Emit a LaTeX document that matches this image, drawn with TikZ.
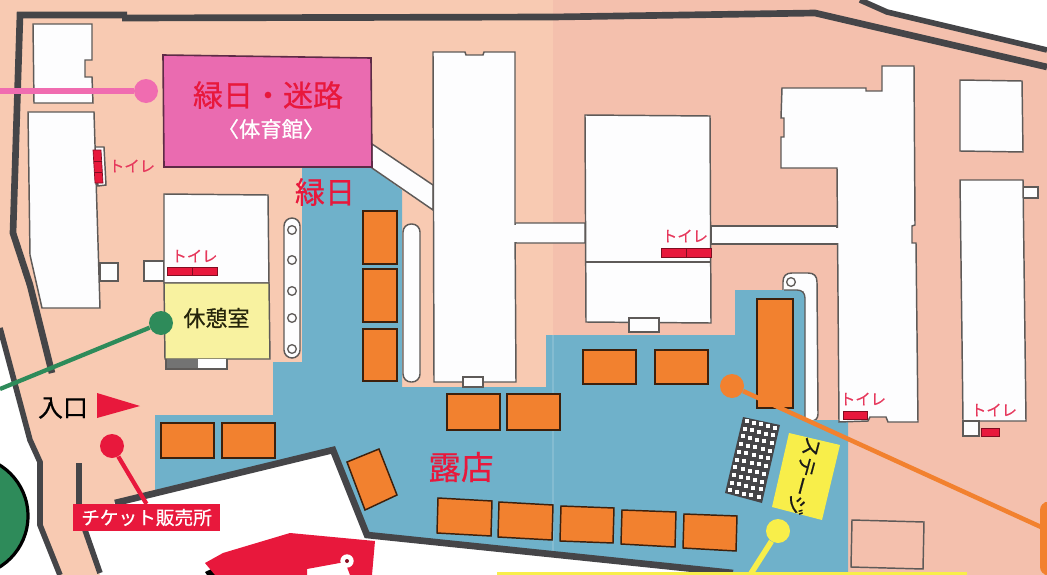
\documentclass[tikz,border=0pt]{standalone}
\usepackage{fontspec}
\setmainfont[FakeBold=0.6]{Noto Sans CJK JP}
\definecolor{peachL}{HTML}{F8CAB2}
\definecolor{peachR}{HTML}{F4C0AD}
\definecolor{blueA}{HTML}{6FB1CA}
\definecolor{wallC}{HTML}{454548}
\definecolor{lineC}{HTML}{5E5A58}
\definecolor{orangeA}{HTML}{F2812F}
\definecolor{pinkA}{HTML}{EA6BB0}
\definecolor{pinkB}{HTML}{F06CB0}
\definecolor{redA}{HTML}{E8183C}
\definecolor{redT}{HTML}{E6385C}
\definecolor{yellowA}{HTML}{F8EE4A}
\definecolor{yellowB}{HTML}{F8F2A0}
\definecolor{greenA}{HTML}{2E8B5A}
\definecolor{whiteA}{HTML}{FDFDFE}
\tikzset{
  x=0.75pt,y=-0.75pt,
  wall/.style={draw=wallC,line width=5pt,line join=miter},
  wallthin/.style={draw=wallC,line width=4.2pt,line join=miter},
  bldg/.style={draw=lineC,line width=1.1pt,fill=whiteA,line join=miter},
  booth/.style={draw=black!75!orangeA,line width=1.1pt,fill=orangeA},
  wc/.style={fill=redA,draw=black!45!redA,line width=0.5pt},
  wctext/.style={text=redT,font=\fontsize{11.5pt}{11.5pt}\selectfont,inner sep=0pt},
  dot/.style={circle,inner sep=0pt,minimum size=18pt},
  hole/.style={circle,draw=lineC,line width=1pt,fill=whiteA,inner sep=0pt,minimum size=6.5pt},
}
\begin{document}
\begin{tikzpicture}
\useasboundingbox (0,0) rectangle (1047,575);
% paper
\fill[peachL] (0,0) rectangle (553,575);
\fill[peachR] (553,0) rectangle (1047,575);
% outside the grounds
\fill[white] (860,0) -- (887,12) -- (1047,50) -- (1047,0) -- cycle;
\fill[white] (0,328) -- (30,440) -- (40,462) -- (40,525) -- (60,575) -- (0,575) -- cycle;
\fill[white] (85,530) -- (100,575) -- (740,575) -- (367,535) -- (333,450) -- (115,503) -- cycle;
% big green disc
\fill[greenA,draw=black,line width=2.4pt] (-32,516) circle [radius=60];
% strip by the stage
\path[bldg] (783,282) .. controls (783,276) and (786,273) .. (792,273) -- (808,273) .. controls (814,273) and (817,276) .. (817,282) -- (818,414) .. controls (818,419) and (815,421) .. (811,421) -- (803,421) -- (803,292) -- (783,292) -- cycle;
\node[hole] (hole7) at (791,282) {};
% blue grounds
\fill[blueA] (302,168) -- (372,168) -- (402,190) -- (402,387) -- (546,387) -- (546,335) -- (735,335) -- (735,290) -- (797,290) .. controls (802,290) and (805,293) .. (805,298) -- (805,420) -- (848,420) -- (848,575) -- (740,575) -- (367,535) -- (333,450) -- (155,490) -- (155,415) -- (273,415) -- (273,362) -- (302,362) -- cycle;
\draw[lineC,line width=1pt] (784,290) -- (797,290) .. controls (802,290) and (805,293) .. (805,298) -- (805,420);
\draw[white,opacity=0.15,line width=1.5pt] (553,335) -- (553,553);
% walls
\draw[wall] (127,15) -- (20,15) -- (13,233) -- (30,285) -- (52,373);
\draw[wall] (122,18) -- (553,17) -- (815,13) -- (1047,67);
\draw[wallthin] (860,0) -- (887,12) -- (1047,50);
\draw[wallthin] (0,328) -- (30,440) -- (40,462) -- (40,525) -- (60,575);
\draw[wallthin] (79,463) -- (79,504) -- (85,530) -- (100,573);
\draw[wall] (115,503) -- (333,450) -- (367,535) -- (733,573);
% buildings
\path[bldg] (33,24) -- (92,24) -- (92,60) -- (85,60) -- (85,77) -- (92,77) -- (93,103) -- (34,103) -- cycle;
\path[bldg] (100,263) rectangle (118,281);
\path[bldg] (94,147) -- (104,147) -- (106,185) -- (98,186) -- cycle;
\path[bldg] (28,112) -- (94,112) -- (100,308) -- (42,308) -- (30,255) -- cycle;
\path[bldg] (144,261) rectangle (164,281);
\path[bldg] (164,194) -- (268,195) -- (269,283) -- (164,283) -- cycle;
\path[draw=lineC,line width=1.1pt,fill=yellowB] (164,283) -- (269,283) -- (270,359) -- (165,359) -- cycle;
\fill[whiteA] (197,359) rectangle (227,369);
\fill[black!55] (166,359) rectangle (198,369);
\draw[lineC,line width=1.1pt] (166,359) -- (166,369) -- (227,369) -- (227,359);
\path[bldg] (372,144) -- (433,185) -- (433,210) -- (372,168) -- cycle;
\path[bldg] (515,223) -- (585,223) -- (585,243) -- (516,243) -- cycle;
\path[bldg] (433,52) -- (465,52) -- (466,55) -- (483,55) -- (484,52) -- (515,52) -- (515,223) -- (516,382) -- (434,382) -- cycle;
\fill[whiteA] (510,224.5) rectangle (520,241.5);
\path[bldg] (463,377) rectangle (483,387);
\path[bldg] (711,226) rectangle (837,244);
\path[bldg] (585,115) -- (710,116) -- (711,323) -- (586,322) -- cycle;
\draw[lineC,line width=1.1pt] (585,262) -- (711,262);
\path[bldg] (629,318) rectangle (659,332);
\path[bldg] (782,88) -- (866,88) -- (866,91) -- (882,91) -- (882,66) -- (914,66) -- (915,225) -- (912,226) -- (912,243) -- (916,243) -- (918,422) -- (888,422) -- (886,417) -- (870,417) -- (868,421) -- (839,422) -- (837,168) -- (781,168) -- (781,137) -- (784,137) -- (784,118) -- (781,118) -- cycle;
\fill[whiteA] (832,227.5) rectangle (842,242.5);
\path[bldg] (960,80) -- (1022,81) -- (1023,152) -- (960,151) -- cycle;
\path[bldg] (1023,187) rectangle (1038,198);
\path[bldg] (960,180) -- (1023,180) -- (1026,421) -- (963,421) -- cycle;
\path[bldg] (963,421) rectangle (979,436);
\path[draw=lineC,line width=1.1pt,fill=peachR] (852,520) -- (924,522) -- (923,569) -- (851,567) -- cycle;
% toilets
\path[wc] (93,150) -- (101,150) -- (103,183) -- (95,183) -- cycle;
\draw[black!45!redA,line width=0.5pt] (94,161) -- (102,161) (94,172) -- (102,172);
\path[wc] (167,267) rectangle (217,275);
\draw[black!45!redA,line width=0.6pt] (192,267) -- (192,275);
\path[wc] (661,248) rectangle (711,257);
\draw[black!45!redA,line width=0.6pt] (686,248) -- (686,257);
\path[wc] (843,411) rectangle (867,419);
\path[wc] (981,428) rectangle (999,436);
\node[wctext] (wc1) at (132,166) {トイレ};
\node[wctext] (wc2) at (194.5,256) {トイレ};
\node[wctext] (wc3) at (685,236) {トイレ};
\node[wctext] (wc4) at (863,399) {トイレ};
\node[wctext] (wc5) at (994,410) {トイレ};
% pillars
\path[bldg,rounded corners=6pt] (284,218) rectangle (300,358);
\foreach \n/\y in {a/230,b/260,c/291,d/318,e/349}{\node[hole] (hole\n) at (292,\y) {};}
\path[bldg,rounded corners=6pt] (403,224) rectangle (420,382);
% gym
\path[draw=black!60!pinkA,line width=1.2pt,fill=pinkA] (163,55) -- (371,58) -- (372,167) -- (164,167) -- cycle;
\node[text=redA,font=\fontsize{22.5pt}{22.5pt}\selectfont,inner sep=0pt] (gymtitle) at (268,95) {緑日・迷路};
\node[text=white,font=\fontsize{16pt}{16pt}\selectfont,inner sep=0pt] (gymsub) at (271,129) {〈体育館〉};
\node[text=redA,font=\fontsize{22.5pt}{22.5pt}\selectfont,inner sep=0pt] (ennichi) at (325,192) {緑日};
\node[text=redA,font=\fontsize{24.5pt}{24.5pt}\selectfont,inner sep=0pt] (roten) at (461,467) {露店};
\node[text=black!85!yellowA,font=\fontsize{16.5pt}{16.5pt}\selectfont,inner sep=0pt] (kyukei) at (216.5,318) {休憩室};
\node[text=black,font=\fontsize{18.7pt}{18.7pt}\selectfont,inner sep=0pt] (iriguchi) at (63,408) {入口};
% booths
\path[booth] (161,423) rectangle (214,458);
\path[booth] (222,423) rectangle (275,458);
\path[booth] (363,211) rectangle (397,264);
\path[booth] (363,269) rectangle (397,322);
\path[booth] (363,329) rectangle (397,381);
\path[booth] (347,462) -- (379,449) -- (397,495) -- (365,510) -- cycle;
\path[booth] (447,394) rectangle (500,430);
\path[booth] (507,394) rectangle (560,430);
\path[booth] (583,350) rectangle (636,384);
\path[booth] (655,350) rectangle (708,384);
\path[booth] (757,299) rectangle (793,408);
\path[booth] (438,498) -- (492,501) -- (491,536) -- (437,533) -- cycle;
\path[booth] (499,502) -- (553,505) -- (552,540) -- (498,537) -- cycle;
\path[booth] (561,506) -- (614,508) -- (613,543) -- (560,541) -- cycle;
\path[booth] (622,510) -- (676,512) -- (675,547) -- (621,544) -- cycle;
\path[booth] (684,514) -- (737,516) -- (736,551) -- (683,548) -- cycle;
% seating grid
\fill[wallC] (743,417) -- (780,425) -- (762,503) -- (725,493) -- cycle;
\foreach \c in {0,...,4}{\foreach \r in {0,...,9}{
  \pgfmathsetmacro{\gx}{746.5+\c*7.2-\r*1.85+0.0}
  \pgfmathsetmacro{\gy}{421+\c*1.65+\r*7.7}
  \fill[white] (\gx-2,\gy-2) rectangle (\gx+2,\gy+2);
}}
% stage
\fill[yellowA] (789,433) -- (840,445) -- (822,520) -- (772,507) -- cycle;
\node[text=black!90,font=\fontsize{15pt}{15pt}\selectfont,inner sep=0pt,rotate=-105] (stage) at (804,476) {ステージ};
% bottom yellow strip and orange tab
\fill[yellowA] (497,572) rectangle (967,575);
\fill[orangeA,rounded corners=6pt] (1040,575) -- (1040,502) -- (1052,502) -- (1052,575) -- cycle;
% callouts
\node[dot,fill=pinkB] (pinkdot) at (146,91) {};
\coordinate (pinkend) at (0,91);
\draw[pinkB,line width=5pt] (pinkend) -- (pinkdot);
\node[dot,fill=greenA] (greendot) at (161,323) {};
\coordinate (greenend) at (0,389);
\draw[greenA,line width=3.2pt] (greenend) -- (greendot);
\node[dot,fill=orangeA] (orangedot) at (732,386) {};
\coordinate (orangeend) at (1041,527);
\draw[orangeA,line width=3.4pt] (orangedot) -- (orangeend);
\node[dot,fill=yellowA] (yellowdot) at (778,531) {};
\coordinate (yellowend) at (750,575);
\draw[yellowA,line width=4.2pt] (yellowdot) -- (yellowend);
% entrance arrow
\fill[redA] (97,393) -- (97,418) -- (140,406) -- cycle;
% ticket
\node[dot,fill=redA] (reddot) at (112,446) {};
\node[fill=redA,text=white,font=\fontsize{14pt}{14pt}\selectfont,inner sep=0pt,minimum width=110pt,minimum height=20pt] (ticket) at (146.5,517.5) {チケット販売所};
\draw[redA,line width=3.2pt] (reddot) -- (ticket.north);
% red shape at the bottom
\fill[black] (205,572) -- (220,565) -- (232,575) -- (207,575) -- cycle;
\fill[redA] (205,563) -- (223,553) -- (290,533) -- (375,541) -- (372,575) -- (350,575) -- (345,562) -- (307,569) -- (307,575) -- (215,575) -- cycle;
\node[circle,fill=white,inner sep=0pt,minimum size=10pt] (redwhite) at (347,561) {};
\node[circle,fill=black!40!redA,inner sep=0pt,minimum size=3pt] (redcore) at (347,561) {};
\end{tikzpicture}
\end{document}
